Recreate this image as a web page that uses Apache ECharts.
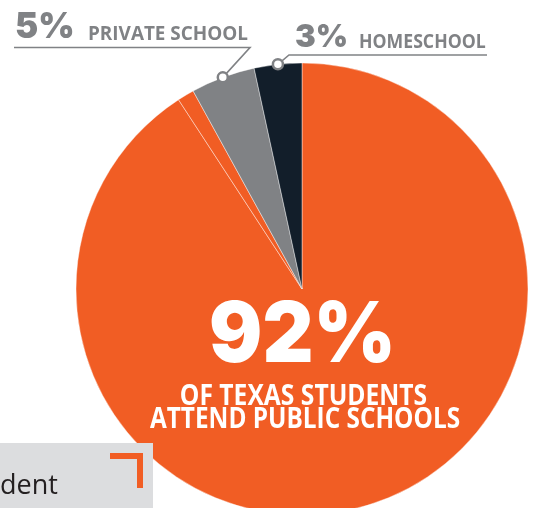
<!DOCTYPE html>
<html><head><meta charset="utf-8">
<script src="https://cdn.jsdelivr.net/npm/echarts@6/dist/echarts.min.js"></script>
<style>html,body{margin:0;padding:0;background:#fff}#c{width:534px;height:508px}</style>
</head><body><div id="c"></div>
<script>
const categories = ['Public school', 'Public school (other)', 'Private school', 'Homeschool'];
const values = [90.8, 1.2, 4.6, 3.4];
const colors = ['#f15d24', '#f15d24', '#808285', '#121e2a'];
const bigLabel = '92%';
const bigCaption = ['OF TEXAS STUDENTS', 'ATTEND PUBLIC SCHOOLS'];
const privLabel = ['5%', 'PRIVATE SCHOOL'];
const homeLabel = ['3%', 'HOMESCHOOL'];

const CX = 302, CY = 289, R = 226;
const total = values.reduce((a, b) => a + b, 0);
function rimPoint(idx) {
  let cum = 0;
  for (let i = 0; i < idx; i++) cum += values[i];
  const mid = (cum + values[idx] / 2) / total * 2 * Math.PI;
  return [CX + R * Math.sin(mid), CY - R * Math.cos(mid)];
}
const pPriv = rimPoint(2), pHome = rimPoint(3);
const gray = '#808285';
const heavy = '"Inter", "DejaVu Sans", sans-serif';

const chart = echarts.init(document.getElementById('c'), null, {renderer: 'canvas'});
chart.setOption({
  animation: false,
  series: [{
    type: 'pie',
    center: [CX, CY],
    radius: [0, R],
    startAngle: 90,
    clockwise: true,
    label: {show: false},
    labelLine: {show: false},
    emphasis: {disabled: true},
    itemStyle: {borderColor: 'rgba(255,255,255,0.7)', borderWidth: 0.6},
    data: categories.map((c, i) => ({name: c, value: values[i], itemStyle: {color: colors[i]}}))
  }],
  graphic: [
    {type: 'text', x: 15, y: 27.5, scaleX: 0.97, style: {text: privLabel[0], fill: gray, fontFamily: heavy, fontWeight: 900, fontSize: 36, textAlign: 'left', textVerticalAlign: 'middle'}},
    {type: 'text', x: 88, y: 34.5, scaleX: 0.945, style: {text: privLabel[1], fill: gray, font: 'bold 20px "Open Sans"', textAlign: 'left', textVerticalAlign: 'middle'}},
    {type: 'polyline', shape: {points: [[14, 47.5], [250, 47.5], pPriv]}, style: {stroke: gray, lineWidth: 1.6, fill: null}},
    {type: 'circle', shape: {cx: pPriv[0], cy: pPriv[1], r: 5}, style: {fill: '#fff', stroke: gray, lineWidth: 2.5}, z: 10},
    {type: 'text', x: 295, y: 37.5, style: {text: homeLabel[0], fill: gray, fontFamily: heavy, fontWeight: 900, fontSize: 31, textAlign: 'left', textVerticalAlign: 'middle'}},
    {type: 'text', x: 359, y: 43, scaleX: 0.93, style: {text: homeLabel[1], fill: gray, font: 'bold 19px "Open Sans"', textAlign: 'left', textVerticalAlign: 'middle'}},
    {type: 'polyline', shape: {points: [[487, 55], [289, 55], pHome]}, style: {stroke: gray, lineWidth: 1.6, fill: null}},
    {type: 'circle', shape: {cx: pHome[0], cy: pHome[1], r: 5}, style: {fill: '#fff', stroke: gray, lineWidth: 2.5}, z: 10},
    {type: 'text', x: 302.5, y: 337, scaleX: 0.94, style: {text: bigLabel, fill: '#fff', fontFamily: heavy, fontWeight: 900, fontSize: 84, textAlign: 'center', textVerticalAlign: 'middle'}, z: 5},
    {type: 'text', x: 303.5, y: 397.5, scaleX: 0.88, style: {text: bigCaption[0], fill: '#fff', font: 'bold 28px "Open Sans"', textAlign: 'center', textVerticalAlign: 'middle'}, z: 5},
    {type: 'text', x: 305, y: 420.5, scaleX: 0.87, style: {text: bigCaption[1], fill: '#fff', font: 'bold 28px "Open Sans"', textAlign: 'center', textVerticalAlign: 'middle'}, z: 5},
    {type: 'rect', shape: {x: 0, y: 443, width: 153, height: 70}, style: {fill: '#dcdddf'}, z: 20},
    {type: 'text', x: 0, y: 486, style: {text: 'dent', fill: '#231f20', font: '27px "Open Sans"', textAlign: 'left', textVerticalAlign: 'middle'}, z: 21},
    {type: 'polyline', shape: {points: [[110, 456], [140, 456], [140, 488]]}, style: {stroke: '#f15d24', lineWidth: 6, fill: null, lineJoin: 'miter', lineCap: 'butt'}, z: 21}
  ]
});
</script></body></html>
